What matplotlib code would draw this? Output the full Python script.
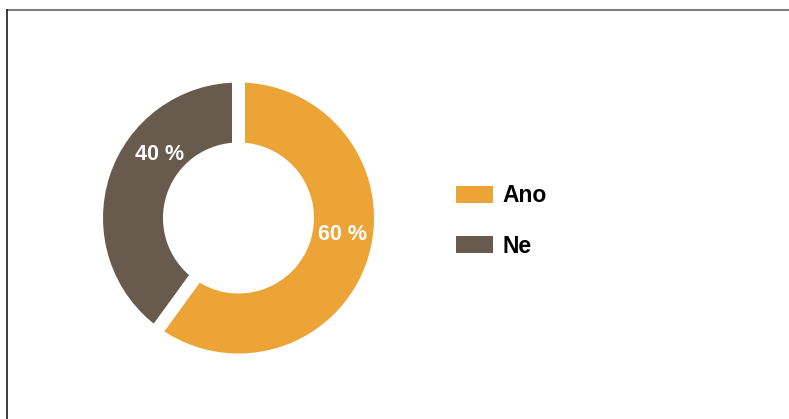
import numpy as np
import matplotlib.pyplot as plt
from matplotlib.lines import Line2D

plt.rcParams['font.family'] = ['Liberation Sans', 'DejaVu Sans']

labels = ['Ano', 'Ne']
values = [60, 40]
colors = ['#EDA437', '#685B4D']
pct_text = ['60 %', '40 %']
label_angles = [-9, 141]   # where the percent labels sit (deg)
label_radii = [105, 101]

W, H = 789, 419
fig = plt.figure(figsize=(W/100, H/100), dpi=100)

# frame lines (top grey, left black)
fig.add_artist(Line2D([7/W, 1], [1-10.5/H, 1-10.5/H], color='#808080', lw=1.5))
fig.add_artist(Line2D([7/W, 7/W], [0, 1-10/H], color='#1a1a1a', lw=1.2))

# donut, units = pixels
cx, cy = 238.5, 218
ax = fig.add_axes([(cx-150)/W, (H-cy-150)/H, 300/W, 300/H])

gap = 13
r_out, r_in = 135.5, 75.5
wedges, _ = ax.pie(values, colors=colors, startangle=90, counterclock=False,
                   radius=r_out+gap/2,
                   wedgeprops=dict(width=(r_out+gap/2)-(r_in-gap/2), edgecolor='white',
                                   linewidth=gap*72/100))
ax.set_xlim(-150, 150)
ax.set_ylim(-150, 150)
ax.set_aspect('equal')
ax.axis('off')

for t, a, r in zip(pct_text, label_angles, label_radii):
    ax.text(r*np.cos(np.radians(a)), r*np.sin(np.radians(a)), t,
            ha='center', va='center', color='white', fontsize=15.5, fontweight='bold')

leg = fig.legend(wedges, labels, loc='center left', bbox_to_anchor=(435/W, 1-221/H),
                 frameon=False, fontsize=16.5, handlelength=1.65, handleheight=0.78,
                 handletextpad=0.4, labelspacing=1.2)
for t in leg.get_texts():
    t.set_fontweight('bold')
for h in leg.legend_handles:
    h.set_edgecolor('none')
    h.set_linewidth(0)

fig.savefig('out.png', dpi=100)
